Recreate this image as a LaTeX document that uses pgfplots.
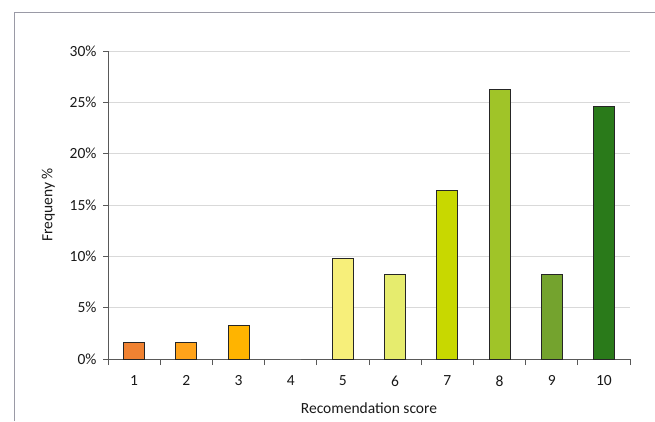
\documentclass[border=0pt]{standalone}
\usepackage{pgfplots}
\pgfplotsset{compat=1.18}
\usepackage{fontspec}
\setmainfont{Carlito}

\definecolor{c1}{HTML}{F08232}
\definecolor{c2}{HTML}{FFA31A}
\definecolor{c3}{HTML}{FFB400}
\definecolor{c4}{HTML}{FFFFFF}
\definecolor{c5}{HTML}{F7EF7A}
\definecolor{c6}{HTML}{E6EC6E}
\definecolor{c7}{HTML}{C8D800}
\definecolor{c8}{HTML}{A0C428}
\definecolor{c9}{HTML}{74A32E}
\definecolor{c10}{HTML}{2A7A1A}
\definecolor{gridgray}{HTML}{D9D9D9}
\definecolor{axisgray}{HTML}{595959}
\definecolor{framegray}{HTML}{9A9AA6}

\begin{document}
\begin{tikzpicture}[x=1pt,y=1pt]
\path[use as bounding box] (0,0) rectangle (655,421);
% outer frame (top and left edges only)
\draw[framegray, line width=0.9pt] (14,0) -- (14,409) -- (655,409);
\begin{axis}[
    at={(108pt,62pt)}, anchor=origin,
    scale only axis,
    width=522pt, height=308pt,
    xmin=0.5, xmax=10.5,
    ymin=0, ymax=30,
    axis lines*=left,
    axis line style={axisgray, line width=0.8pt},
    xtick={1,...,10},
    minor xtick={0.5,1.5,...,10.5},
    ytick={0,5,...,30},
    yticklabel={\pgfmathprintnumber{\tick}\%},
    tick align=outside,
    major tick length=5pt,
    minor tick length=6pt,
    tick style={axisgray, line width=0.8pt},
    major x tick style={draw=none},
    ymajorgrids=true,
    grid style={gridgray, line width=0.8pt},
    /pgf/number format/assume math mode=true,
    every tick label/.append style={font=\fontsize{15.5}{18}\selectfont, black!90},
    every axis label/.append style={font=\fontsize{15.5}{18}\selectfont, black!90},
    xticklabel style={yshift=-8pt},
    yticklabel style={xshift=-3pt},
    xlabel={Recomendation score},
    ylabel={Frequeny \%},
    xlabel style={yshift=-10pt},
    ylabel style={yshift=8pt},
    every axis plot/.append style={
      ybar, bar width=21pt, bar shift=0pt,
      draw=black!85, line width=0.7pt
    },
  ]
  \addplot[fill=c1] coordinates {(1,1.64)};
  \addplot[fill=c2] coordinates {(2,1.64)};
  \addplot[fill=c3] coordinates {(3,3.28)};
  \addplot[fill=c4, draw=none] coordinates {(4,0)};
  \addplot[fill=c5] coordinates {(5,9.84)};
  \addplot[fill=c6] coordinates {(6,8.20)};
  \addplot[fill=c7] coordinates {(7,16.39)};
  \addplot[fill=c8] coordinates {(8,26.23)};
  \addplot[fill=c9] coordinates {(9,8.20)};
  \addplot[fill=c10] coordinates {(10,24.59)};
\end{axis}
\end{tikzpicture}
\end{document}
